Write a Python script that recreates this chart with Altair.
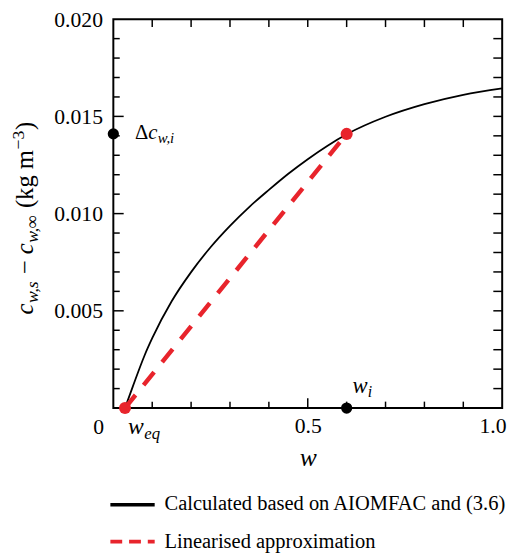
import altair as alt
import pandas as pd

SERIF = "Liberation Serif"
RED = "#e8242c"
W, H = 395, 395

# ---- data ----
w_curve = [0.03, 0.05, 0.08, 0.10, 0.15, 0.20, 0.25, 0.30, 0.35, 0.40, 0.45,
           0.50, 0.55, 0.60, 0.70, 0.80, 0.90, 1.00]
c_curve = [0.0, 0.0011, 0.00269, 0.00359, 0.00549, 0.00699, 0.00827, 0.00937, 0.01035,
           0.01122, 0.01205, 0.0128, 0.01348, 0.01408, 0.01498, 0.01563, 0.01611, 0.01644]

w_lin = [0.03, 0.60]
c_lin = [0.0, 0.0141]

red_w = [0.03, 0.60]
red_c = [0.0, 0.0141]
black_w = [0.0, 0.60]
black_c = [0.0141, 0.0]

x_tick_labels = [0.5, 1.0]
y_tick_labels = [0.005, 0.010, 0.015, 0.020]
x_major = [0.5]
x_minor = [0.1, 0.2, 0.3, 0.4, 0.6, 0.7, 0.8, 0.9]
y_major = [0.005, 0.010, 0.015]
y_minor = [0.001, 0.002, 0.003, 0.004, 0.006, 0.007, 0.008, 0.009, 0.011,
           0.012, 0.013, 0.014, 0.016, 0.017, 0.018, 0.019]
x_all = [0.1, 0.2, 0.3, 0.4, 0.5, 0.6, 0.7, 0.8, 0.9]
y_all = y_minor + y_major

legend_labels = ["Calculated based on AIOMFAC and (3.6)", "Linearised approximation"]

# ---- scales / axes ----
xs = alt.Scale(domain=[0, 1], nice=False, zero=False)
ys = alt.Scale(domain=[0, 0.02], nice=False, zero=False)
xaxis = alt.Axis(values=x_tick_labels, format=".1f", ticks=False, domain=False, grid=False,
                 labelFont=SERIF, labelFontSize=22, labelColor="black", labelPadding=8,
                 labelFlush=True, labelFlushOffset=4, labelOverlap=False, title=None)
yaxis = alt.Axis(values=y_tick_labels, format=".3f", ticks=False, domain=False, grid=False,
                 labelFont=SERIF, labelFontSize=22, labelColor="black", labelPadding=11,
                 labelOverlap=False, title=None)

curve_df = pd.DataFrame({"w": w_curve, "c": c_curve})
lin_df = pd.DataFrame({"w": w_lin, "c": c_lin})
red_df = pd.DataFrame({"w": red_w, "c": red_c})
black_df = pd.DataFrame({"w": black_w, "c": black_c})

curve = alt.Chart(curve_df).mark_line(color="black", strokeWidth=1.8, interpolate="monotone").encode(
    x=alt.X("w:Q", scale=xs, axis=xaxis), y=alt.Y("c:Q", scale=ys, axis=yaxis))
lin = alt.Chart(lin_df).mark_line(color=RED, strokeWidth=4.5, strokeDash=[17, 13]).encode(
    x=alt.X("w:Q", scale=xs, axis=xaxis), y=alt.Y("c:Q", scale=ys, axis=yaxis))
red_pts = alt.Chart(red_df).mark_circle(color=RED, size=150, opacity=1).encode(
    x=alt.X("w:Q", scale=xs, axis=xaxis), y=alt.Y("c:Q", scale=ys, axis=yaxis))
black_pts = alt.Chart(black_df).mark_circle(color="black", size=130, opacity=1).encode(
    x=alt.X("w:Q", scale=xs, axis=xaxis), y=alt.Y("c:Q", scale=ys, axis=yaxis))


def xticks(vals, y0, y1):
    return alt.Chart(pd.DataFrame({"v": vals})).mark_rule(color="black", strokeWidth=1.5).encode(
        x=alt.X("v:Q", scale=xs, axis=xaxis), y=alt.value(y0), y2=alt.value(y1))


def yticks(vals, x0, x1):
    return alt.Chart(pd.DataFrame({"v": vals})).mark_rule(color="black", strokeWidth=1.5).encode(
        y=alt.Y("v:Q", scale=ys, axis=yaxis), x=alt.value(x0), x2=alt.value(x1))


ticks = [
    xticks(x_major, H, H - 10), xticks(x_minor, H, H - 6.5),
    xticks(x_all, 0, 8),
    yticks(y_major, 0, 10.5), yticks(y_minor, 0, 6.5),
    yticks(y_all, W, W - 9),
]

one = pd.DataFrame({"a": [0]})


def txt(s, x, y, size=20, italic=False, angle=0, align="left", color="black"):
    kw = dict(text=s, font=SERIF, fontSize=size, fontStyle="italic" if italic else "normal",
              align=align, baseline="alphabetic", color=color)
    if angle:
        kw["angle"] = angle
    return alt.Chart(one).mark_text(**kw).encode(x=alt.value(x), y=alt.value(y))


texts = []
# y-axis title, rotated, built from pieces (bottom to top)
yx, ys0 = -82, 300
F, S = 25, 18
for s, off, dyy, size, it in [
    ("c", 0, 0, F, True),
    ("w,s", 11.6, 5, S, True),
    ("\u2212", 41.1, 0, F, False),
    ("c", 61.2, 0, F, True),
    ("w,\u221e", 72.8, 5, S, True),
    ("(kg m", 108.1, 0, F, False),
    ("\u22123", 167.6, -9, S, False),
    (")", 187.3, 0, F, False),
]:
    texts.append(txt(s, yx + dyy, ys0 - off, size=size, italic=it, angle=270))

# x-axis title and zero label
texts.append(txt("w", 198, 454, size=26, italic=True, align="center"))
texts.append(txt("0", -15, 421, size=22, align="center"))

# annotations
texts += [
    txt("\u0394", 22, 122, size=21),
    txt("c", 35.5, 122, size=21, italic=True),
    txt("w,i", 45, 126, size=15, italic=True),
    txt("w", 243, 380, size=23, italic=True),
    txt("i", 258.5, 384, size=16, italic=True),
    txt("w", 15, 421, size=24, italic=True),
    txt("eq", 31.5, 426, size=17, italic=True),
]

# legend
leg_black = alt.Chart(one).mark_rule(color="black", strokeWidth=3.5).encode(
    x=alt.value(-3), x2=alt.value(42), y=alt.value(493.3))
leg_red = alt.Chart(one).mark_rule(color=RED, strokeWidth=4, strokeDash=[12, 7]).encode(
    x=alt.value(-3), x2=alt.value(42), y=alt.value(530.7))
texts.append(txt(legend_labels[0], 52, 499, size=20.8))
texts.append(txt(legend_labels[1], 52, 537, size=20.8))

chart = alt.layer(curve, lin, *ticks, red_pts, black_pts, leg_black, leg_red, *texts).properties(
    width=W, height=H,
    autosize=alt.AutoSizeParams(type="none"),
    padding={"left": 107, "top": 7, "right": 12, "bottom": 149},
    background="white",
).configure_view(stroke="black", strokeWidth=2)

chart.save("out.html", embed_options={"renderer": "svg", "actions": False})
